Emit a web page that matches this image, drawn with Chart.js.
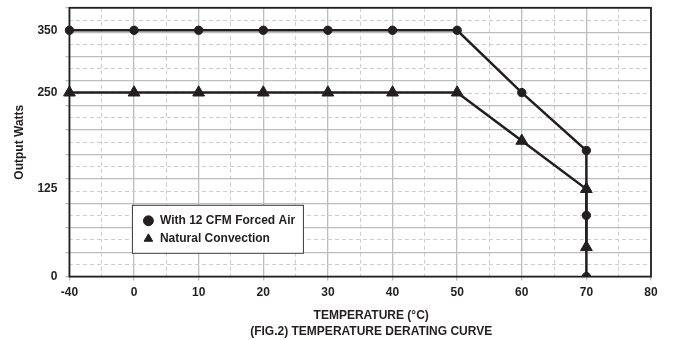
<!DOCTYPE html>
<html>
<head>
<meta charset="utf-8">
<script src="https://cdn.jsdelivr.net/npm/chart.js@4.4.1/dist/chart.umd.min.js"></script>
<style>
html,body{margin:0;padding:0;background:#ffffff;}
#wrap{width:674px;height:340px;}
canvas{display:block;}
</style>
</head>
<body>
<div id="wrap"><canvas id="c" width="674" height="340"></canvas></div>
<script>
// ---------- data ----------
const temperatureLabels = ['-40', '0', '10', '20', '30', '40', '50', '60', '70', '80'];
const forcedAirTemps = ['-40', '0', '10', '20', '30', '40', '50', '60', '70', '70', '70'];
const forcedAirWatts = [350, 350, 350, 350, 350, 350, 350, 250, 175, 87.5, 0];
const naturalTemps = ['-40', '0', '10', '20', '30', '40', '50', '60', '70', '70'];
const naturalWatts = [250, 250, 250, 250, 250, 250, 250, 187.5, 125, 42];
const wattTickValues = [0, 125, 250, 350];
const seriesNames = ['With 12 CFM Forced Air', 'Natural Convection'];
const xTitleLines = ['TEMPERATURE (°C)', '(FIG.2) TEMPERATURE DERATING CURVE'];
const yTitle = 'Output Watts';

// ---------- styling ----------
const INK = '#231f20';
const FONT = "'Liberation Sans', Arial, Helvetica, sans-serif";
const GRID_SOLID = '#bdbdbd';
const GRID_DASH = '#cdcdcd';

// The printed watt axis is not linear: these knots map watts onto the
// 11 equal grid divisions of the drawing (scale definition, not data).
const wattKnots = [0, 125, 250, 350, 386];
const gridKnots = [0, 3.58, 7.53, 10.08, 11];
const GRID_DIVS_Y = 11;

function interp(v, xs, ys) {
  let i = 1;
  while (i < xs.length - 1 && v > xs[i]) i++;
  const t = (v - xs[i - 1]) / (xs[i] - xs[i - 1]);
  return ys[i - 1] + t * (ys[i] - ys[i - 1]);
}

class PiecewiseScale extends Chart.LinearScale {
  getPixelForValue(value) {
    if (value === null || value === undefined || isNaN(value)) return NaN;
    return this.getPixelForDecimal(interp(value, wattKnots, gridKnots) / GRID_DIVS_Y);
  }
  getValueForPixel(pixel) {
    return interp(this.getDecimalForPixel(pixel) * GRID_DIVS_Y, gridKnots, wattKnots);
  }
}
PiecewiseScale.id = 'piecewise';
PiecewiseScale.defaults = Chart.LinearScale.defaults;
Chart.register(PiecewiseScale);

function halfSteps(n) { const a = []; for (let i = 0; i <= n * 2; i++) a.push({ value: i / 2 }); return a; }
const isMinor = c => !!(c.tick && Math.abs(c.tick.value % 1) > 0.01);

const gridAxis = (pos, max) => ({
  type: 'linear', position: pos, weight: 0, min: 0, max: max,
  afterBuildTicks: s => { s.ticks = halfSteps(max); },
  ticks: { display: false },
  grid: {
    color: c => isMinor(c) ? GRID_DASH : GRID_SOLID,
    lineWidth: c => isMinor(c) ? 1 : 1.3,
    drawTicks: true, tickLength: 4,
    tickColor: c => isMinor(c) ? 'rgba(0,0,0,0)' : GRID_SOLID,
    tickWidth: 1.3
  },
  border: { display: false, dash: c => isMinor(c) ? [4, 3] : [] }
});

const boldFont = { family: FONT, size: 12, weight: 'bold' };

const layoutPlugin = {
  id: 'layoutTweaks',
  afterLayout(chart) {
    const lg = chart.legend;
    const ca = chart.chartArea;
    if (lg) {
      lg.left = ca.left + 67.5;
      lg.top = ca.top + 201;
      lg.right = lg.left + 175;
      lg.bottom = lg.top + 52;
      if (!lg.__patched) {
        const orig = lg.draw;
        lg.draw = function () {
          const ctx = this.ctx;
          ctx.save();
          ctx.fillStyle = '#ffffff';
          ctx.strokeStyle = '#3a3a3a';
          ctx.lineWidth = 1;
          ctx.fillRect(this.left - 4.5, this.top - 3.5, 171, 48);
          ctx.strokeRect(this.left - 4.5, this.top - 3.5, 171, 48);
          ctx.restore();
          return orig.apply(this, arguments);
        };
        lg.__patched = true;
      }
    }
    const xs = chart.scales.x;
    if (xs && !xs.__patched) {
      const origT = xs.drawTitle;
      xs.drawTitle = function () {
        this.ctx.save();
        this.ctx.translate(11, 0);
        origT.apply(this, arguments);
        this.ctx.restore();
      };
      xs.__patched = true;
    }
  },
  beforeDatasetsDraw(chart) {
    const { ctx, chartArea: a } = chart;
    ctx.save();
    ctx.strokeStyle = INK;
    ctx.lineWidth = 1.8;
    ctx.strokeRect(a.left, a.top, a.right - a.left, a.bottom - a.top);
    ctx.restore();
  }
};

new Chart(document.getElementById('c'), {
  type: 'line',
  data: {
    labels: temperatureLabels,
    datasets: [
      {
        label: seriesNames[0],
        data: forcedAirTemps.map((t, i) => ({ x: t, y: forcedAirWatts[i] })),
        borderColor: INK, backgroundColor: INK, borderWidth: 2.5,
        pointStyle: 'circle', pointRadius: 4.2, pointBorderWidth: 1,
        pointBackgroundColor: INK, pointBorderColor: INK,
        tension: 0, fill: false, xAxisID: 'x', yAxisID: 'y'
      },
      {
        label: seriesNames[1],
        data: naturalTemps.map((t, i) => ({ x: t, y: naturalWatts[i] })),
        borderColor: INK, backgroundColor: INK, borderWidth: 2.5,
        pointStyle: 'triangle', pointRadius: 6.8, pointBorderWidth: 1,
        pointBackgroundColor: INK, pointBorderColor: INK,
        tension: 0, fill: false, xAxisID: 'x', yAxisID: 'y'
      }
    ]
  },
  options: {
    responsive: false,
    devicePixelRatio: 1,
    animation: false,
    events: [],
    layout: { padding: { left: 11, right: 23, top: 7, bottom: 0 } },
    plugins: {
      tooltip: { enabled: false },
      legend: {
        position: 'chartArea',
        align: 'start',
        labels: {
          usePointStyle: true, boxWidth: 11, boxHeight: 7, padding: 6,
          color: INK, font: boldFont
        }
      }
    },
    scales: {
      x: {
        type: 'category', position: 'bottom', weight: 1, offset: false,
        grid: { display: false, drawTicks: true, tickLength: 5, tickColor: 'rgba(0,0,0,0)' },
        border: { display: false },
        ticks: { color: INK, font: boldFont, padding: 0, autoSkip: false, maxRotation: 0 },
        title: {
          display: true, text: xTitleLines, color: INK,
          font: { family: FONT, size: 12, weight: 'bold', lineHeight: 1.333 },
          padding: { top: 8, bottom: 0 }
        }
      },
      x2: gridAxis('bottom', temperatureLabels.length - 1),
      y: {
        type: 'piecewise', position: 'left', weight: 1, min: 0, max: 386,
        afterBuildTicks: s => { s.ticks = wattTickValues.map(v => ({ value: v })); },
        grid: { display: false, drawTicks: true, tickLength: 8, tickColor: 'rgba(0,0,0,0)' },
        border: { display: false },
        ticks: { color: INK, font: boldFont, padding: 0, callback: v => String(v) },
        title: {
          display: true, text: yTitle, color: INK,
          font: { family: FONT, size: 12, weight: 'bold' },
          padding: { top: 1, bottom: 11 }
        }
      },
      y2: gridAxis('left', GRID_DIVS_Y)
    }
  },
  plugins: [layoutPlugin]
});
</script>
</body>
</html>
